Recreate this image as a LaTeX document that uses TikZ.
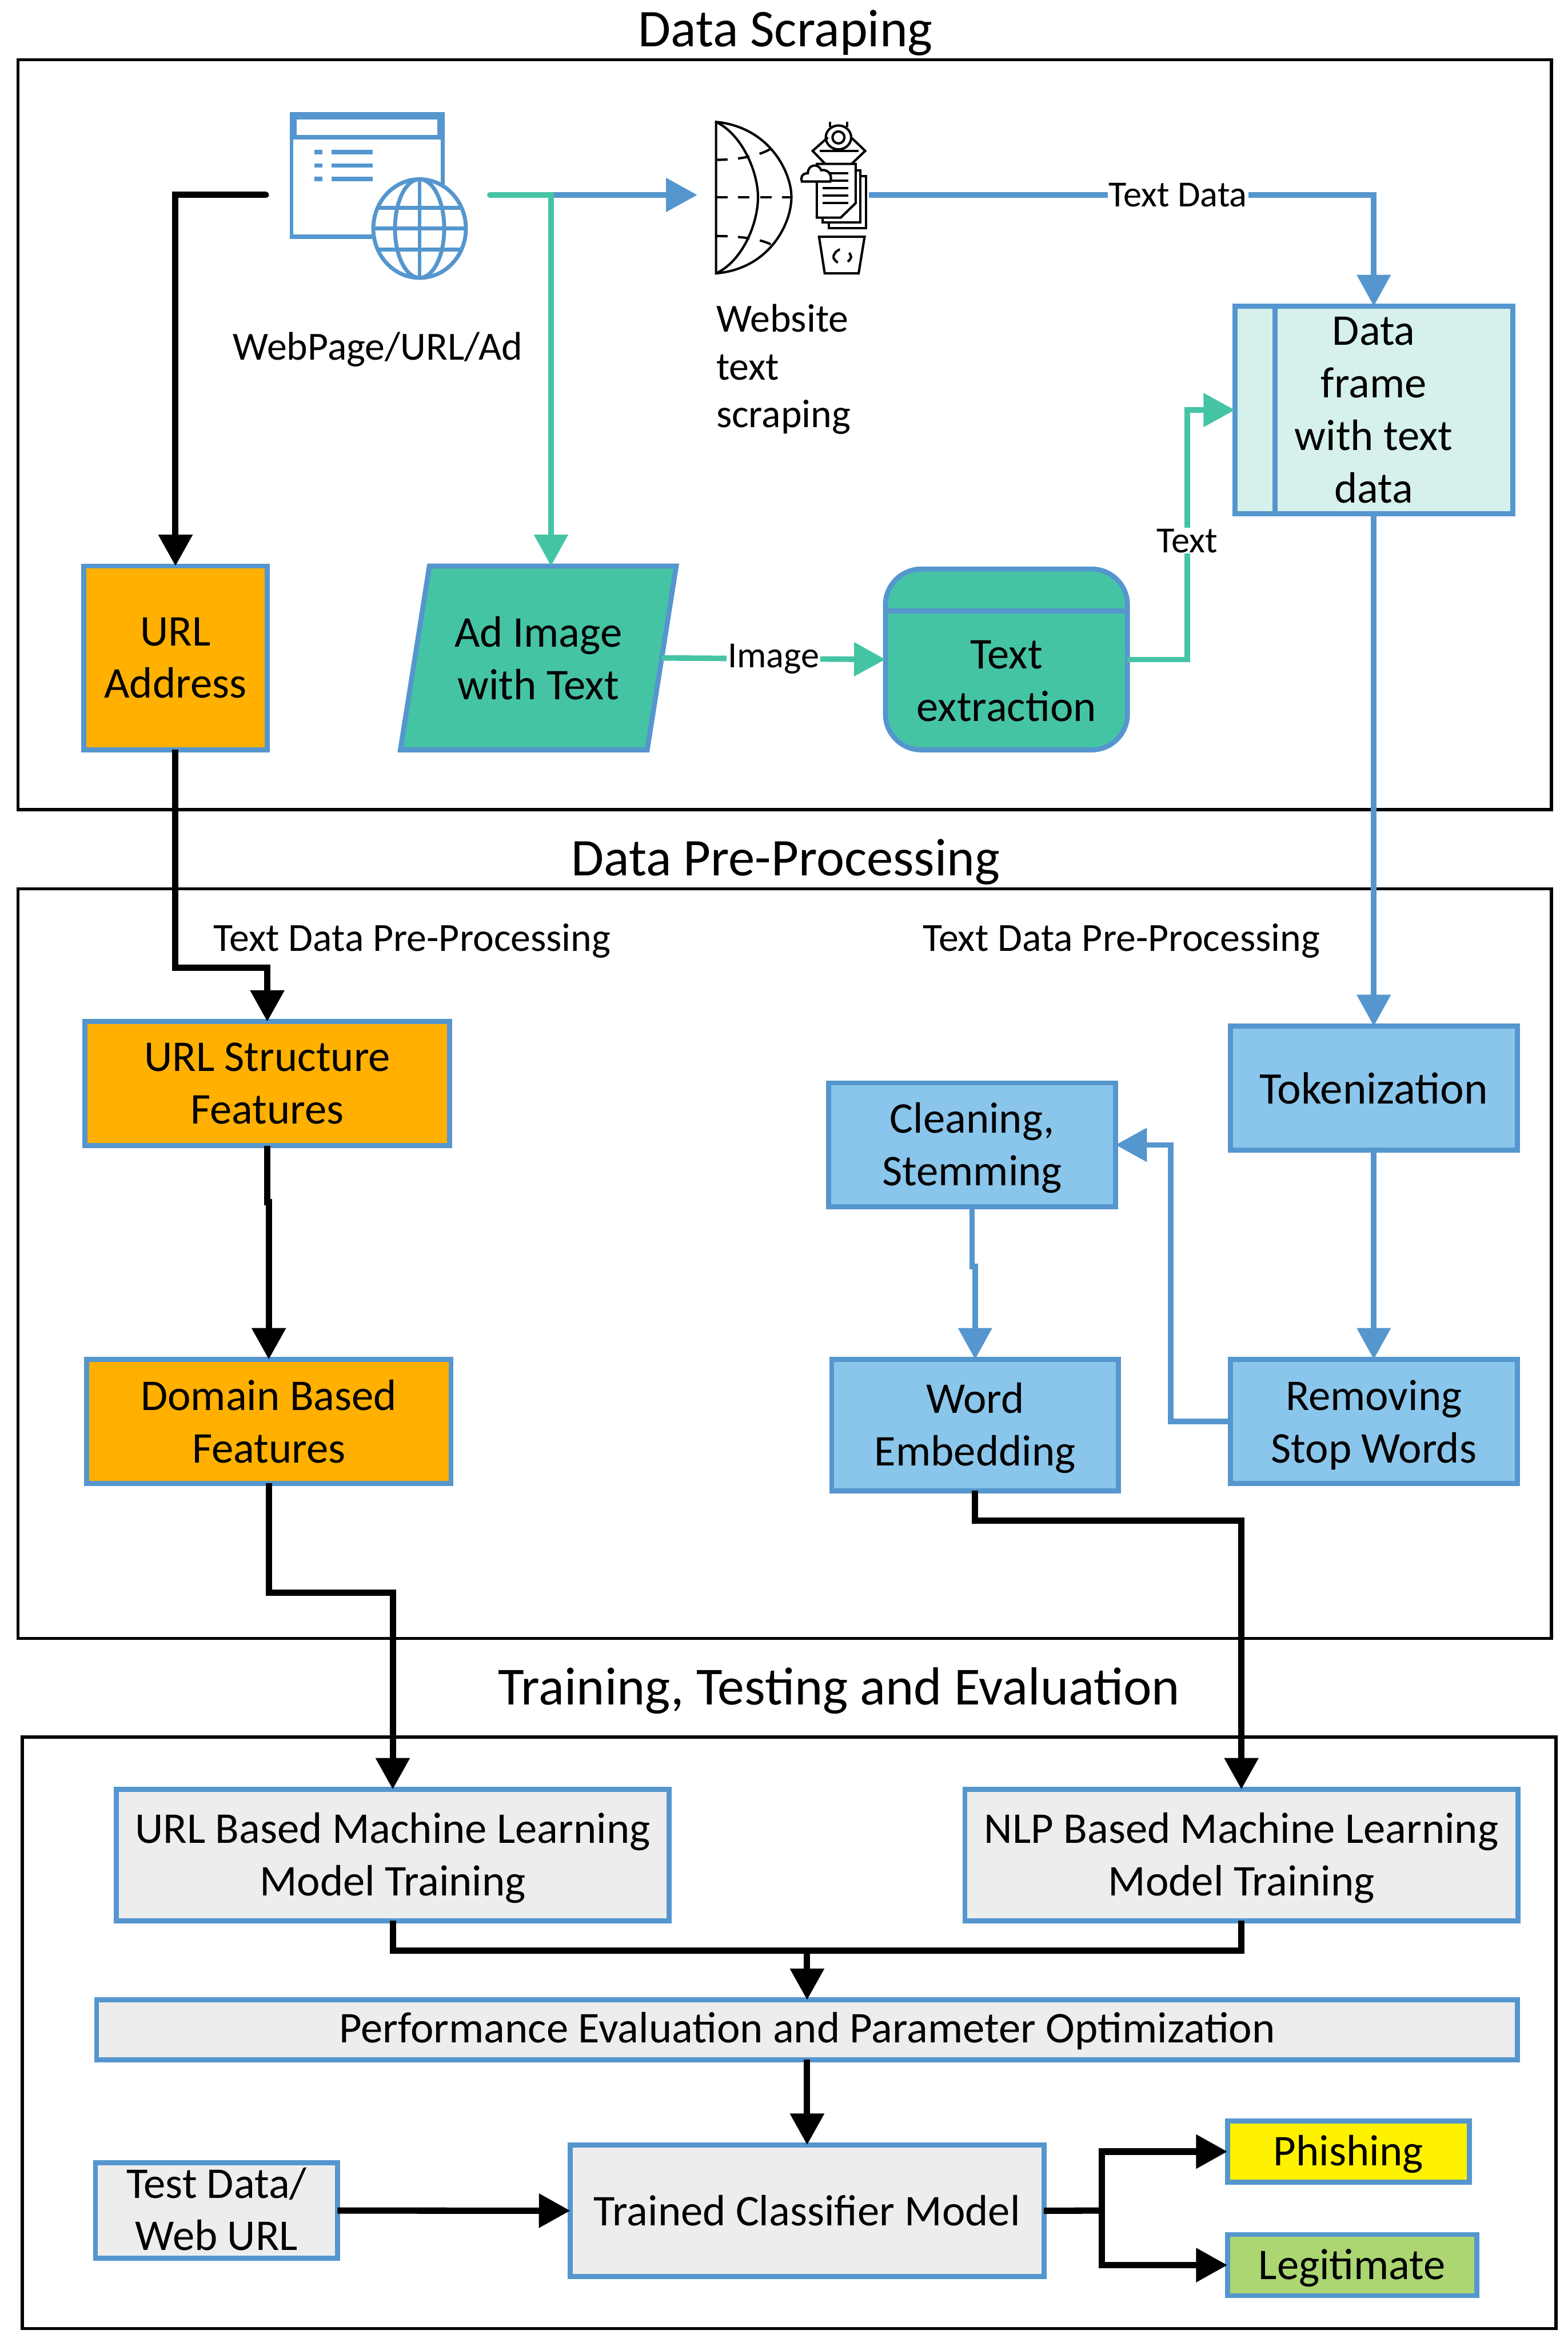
\documentclass[tikz,border=0pt]{standalone}
\usepackage{fontspec}
\setmainfont{Carlito}
\usepackage{tikz}
\usetikzlibrary{arrows.meta, positioning, shapes.geometric}
\definecolor{edgeblue}{HTML}{5596CE}
\definecolor{tealgreen}{HTML}{45C4A4}
\definecolor{urlorange}{HTML}{FFB000}
\definecolor{paleteal}{HTML}{D6F1EB}
\definecolor{skyblue}{HTML}{8AC6EB}
\definecolor{palegrey}{HTML}{EDEDED}
\definecolor{leafgreen}{HTML}{ABD672}
\newcommand{\mainfs}{\fontsize{8.35}{10}\selectfont}

\begin{document}
\begin{tikzpicture}[
    x=0.01cm, y=-0.01cm,
    font=\mainfs,
    frame/.style={draw=black, line width=0.6pt},
    title/.style={font=\fontsize{10.1}{12}\selectfont, inner sep=0pt},
    note/.style={font=\fontsize{7.6}{9.1}\selectfont, inner sep=0pt},
    box/.style={rectangle, draw=edgeblue, line width=0.95pt, align=center, inner sep=0pt, outer sep=0pt},
    edgetext/.style={font=\fontsize{7}{8}\selectfont, text=black, fill=white, inner sep=0.2pt},
    arrow/.style={-{Triangle[length=0.21cm, width=0.22cm]}, line width=1.2pt, black},
    bluearrow/.style={-{Triangle[length=0.21cm, width=0.22cm]}, line width=1.05pt, edgeblue},
    tealarrow/.style={-{Triangle[length=0.21cm, width=0.22cm]}, line width=1.05pt, tealgreen},
    icon/.style={black, line width=0.45pt}
]
\useasboundingbox (0,0) rectangle (1050,1568);

\draw[frame] (12,40) rectangle (1039,542);
\draw[frame] (12,595) rectangle (1039,1097);
\draw[frame] (15,1163) rectangle (1042,1559);
\node[title] (scrapetitle) at (526,22) {Data Scraping};
\node[title] (preptitle) at (526,577) {Data Pre-Processing};
\node[title, font=\fontsize{10.2}{12}\selectfont] (traintitle) at (562,1132) {Training, Testing and Evaluation};

% web page icon
\fill[edgeblue] (194,75) rectangle (298,160);
\fill[white] (198.6,80) rectangle (292.8,90.5);
\fill[white] (196.3,93.3) rectangle (295,157);
\foreach \y in {100.4,109.3,118.4} {
    \fill[edgeblue] (210.7,\y) rectangle (216,\y+3);
    \fill[edgeblue] (222,\y) rectangle (249.6,\y+3);
}
\draw[edgeblue, line width=0.75pt, fill=white] (281,153) ellipse (31 and 33);
\draw[edgeblue, line width=0.75pt] (281,153) ellipse (16.5 and 33);
\draw[edgeblue, line width=0.75pt] (281,120) -- (281,186);
\draw[edgeblue, line width=0.75pt] (250,153) -- (312,153);
\draw[edgeblue, line width=0.75pt] (253,139) -- (309,139);
\draw[edgeblue, line width=0.75pt] (253,167) -- (309,167);

% half globe icon
\draw[icon] (479.5,81.6) .. controls (515,85) and (530,115) .. (530,132) .. controls (530,150) and (515,180) .. (479.5,183) -- cycle;
\draw[icon] (479.5,81.6) .. controls (497,90) and (507.6,115) .. (507.6,132) .. controls (507.6,150) and (497,175) .. (479.5,183);
\draw[icon, dash pattern=on 2.2pt off 2pt] (479.5,132) -- (530,132);
\draw[icon, dash pattern=on 2.2pt off 2pt] (479.5,107) .. controls (495,107) and (510,104) .. (517,99);
\draw[icon, dash pattern=on 2.2pt off 2pt] (479.5,158) .. controls (495,158) and (510,160) .. (517,164);

% robot icon
\draw[icon] (555.8,81.6) -- (555.8,85);
\draw[icon] (567.2,81.6) -- (567.2,85);
\draw[icon] (561.5,92) ellipse (8.5 and 8);
\draw[icon] (561.5,92) ellipse (4 and 4);
\draw[icon] (554.4,92) -- (544.2,101) -- (552.9,110);
\draw[icon] (570,92) -- (579.4,101) -- (570,110);
\draw[icon] (549,101) -- (575,101);
\draw[icon, fill=white] (555,118) rectangle (580,152.7);
\draw[icon, fill=white] (551,114) rectangle (576,149);
\draw[icon, fill=white] (547,109.7) -- (573,109.7) -- (573,136) -- (563,145.7) -- (547,145.7) -- cycle;
\foreach \y in {116,121,126,131,136} {
    \draw[icon] (551,\y) -- (568,\y);
}
\draw[icon, fill=white] (537,121.5) -- (556,121.5) .. controls (558,116) and (553,113) .. (550,114) .. controls (548,109) and (541,110) .. (541,116) .. controls (537,116) and (536,119) .. (537,121.5) -- cycle;
\draw[icon] (548.5,158.5) -- (579,158.5) -- (575,183) -- (552.3,183) -- cycle;
\draw[icon, dash pattern=on 2pt off 2pt] (558,172) .. controls (560,165) and (568,165) .. (570,172) .. controls (568,178) and (560,178) .. (558,172);

\coordinate (webleft) at (178,130.5);
\coordinate (webright) at (328,130.5);
\coordinate (scrapein) at (467,130.5);
\coordinate (scrapeout) at (582,130.5);

\node[note] (weblabel) at (253,234) {WebPage/URL/Ad};
\node[note, align=left, anchor=north west] (scrapelabel) at (479,203) {Website\\text\\scraping};

\node[box, fill=urlorange, minimum width=1.23cm, minimum height=1.23cm] (url) at (117.5,440.5) {URL\\Address};
\node[box, fill=tealgreen, trapezium, trapezium left angle=75, trapezium right angle=105, trapezium stretches=true, minimum width=1.85cm, minimum height=1.23cm] (adimg) at (360.5,440.5) {Ad Image\\with Text};
\node[box, fill=tealgreen, rounded corners=0.24cm, minimum width=1.62cm, minimum height=1.21cm] (textext) at (674,441.5) {\\[3.6pt]Text\\extraction};
\draw[edgeblue, line width=0.95pt] (textext.west |- 0,409) -- (textext.east |- 0,409);
\node[box, fill=paleteal, minimum width=1.86cm, minimum height=1.39cm] (dframe) at (920,274.5) {Data\\frame\\with text\\data};
\draw[edgeblue, line width=0.95pt] ([xshift=0.27cm]dframe.north west) -- ([xshift=0.27cm]dframe.south west);

\node[note] (urlprep) at (276,630) {Text Data Pre-Processing};
\node[note] (nlpprep) at (751,630) {Text Data Pre-Processing};

\node[box, fill=urlorange, minimum width=2.44cm, minimum height=0.83cm] (ustruct) at (179,725.5) {URL Structure\\Features};
\node[box, fill=urlorange, minimum width=2.44cm, minimum height=0.83cm, below=1.43cm of ustruct, xshift=0.01cm] (domain) {Domain Based\\Features};
\node[box, fill=skyblue, minimum width=1.92cm, minimum height=0.83cm, font=\fontsize{8.6}{10}\selectfont] (token) at (920,728.5) {Tokenization};
\node[box, fill=skyblue, minimum width=1.92cm, minimum height=0.83cm, below=1.40cm of token, text depth=-1.2pt] (remove) {Removing\\Stop Words};
\node[box, fill=skyblue, minimum width=1.92cm, minimum height=0.83cm, text depth=0.4pt] (clean) at (651,766.5) {Cleaning,\\Stemming};
\node[box, fill=skyblue, minimum width=1.92cm, minimum height=0.88cm, below=1.02cm of clean, xshift=0.02cm, text depth=0.4pt] (word) {Word\\Embedding};

\node[box, fill=palegrey, minimum width=3.70cm, minimum height=0.88cm, text depth=0.4pt] (urlml) at (263,1242) {URL Based Machine Learning\\Model Training};
\node[box, fill=palegrey, minimum width=3.70cm, minimum height=0.88cm, right=1.98cm of urlml, text depth=0.4pt] (nlpml) {NLP Based Machine Learning\\Model Training};
\node[box, fill=palegrey, minimum width=9.51cm, minimum height=0.40cm, text depth=1pt] (perf) at (540.5,1359) {Performance Evaluation and Parameter Optimization};
\node[box, fill=palegrey, minimum width=3.17cm, minimum height=0.88cm, below=0.57cm of perf] (clf) {Trained Classifier Model};
\node[box, fill=palegrey, minimum width=1.62cm, minimum height=0.64cm, text depth=0.6pt] (testdata) at (145,1480) {Test Data/\\Web URL};
\node[box, fill=yellow, minimum width=1.62cm, minimum height=0.41cm, text depth=0.4pt] (phish) at (903,1440.5) {Phishing};
\node[box, fill=leafgreen, minimum width=1.67cm, minimum height=0.41cm, text depth=0.4pt] (legit) at (905.5,1516.5) {Legitimate};

\draw[arrow, line cap=round] (webleft) -| (url.north);
\draw[bluearrow] (webright) -- (scrapein);
\draw[tealarrow, line cap=round] (webright) -| (adimg.north -| 369,0);
\draw[bluearrow] (scrapeout) -- node[edgetext, pos=0.612] (textdatalabel) {Text Data} (920,130.5) -- (dframe.north);
\draw[tealarrow] (adimg.east) -- node[edgetext, pos=0.5] (imagelabel) {Image} (textext.west);
\draw[tealarrow] (textext.east) -- ++(40,0) |- node[edgetext, pos=0.238] (textlabel) {Text} (dframe.west);

\draw[bluearrow] (dframe.south) -- (token.north);
\draw[bluearrow] (token.south) -- (remove.north);
\draw[bluearrow] (remove.west) -- ++(-40,0) |- (clean.east);
\draw[bluearrow] (clean.south) -- ++(0,40) -| (word.north);

\draw[arrow] (url.south) -- ++(0,146) -| (ustruct.north);
\draw[arrow] (ustruct.south) -- ++(0,38) -| (domain.north);
\draw[arrow] (domain.south) -- ++(0,73) -| (urlml.north);
\draw[arrow] (word.south) -- ++(0,20) -| (nlpml.north);

\coordinate (merge) at (perf.north |- 0,1306);
\draw[line width=1.2pt] (urlml.south) |- (merge) -| (nlpml.south);
\draw[arrow] (merge) -- (perf.north);
\draw[arrow] (perf.south) -- (clf.north);
\draw[arrow] (testdata.east) -- (clf.west);
\coordinate (split) at (738,1480);
\draw[line width=1.2pt] (clf.east) -- (split);
\draw[arrow] (split) |- (phish.west);
\draw[arrow] (split) |- (legit.west);
\end{tikzpicture}
\end{document}
